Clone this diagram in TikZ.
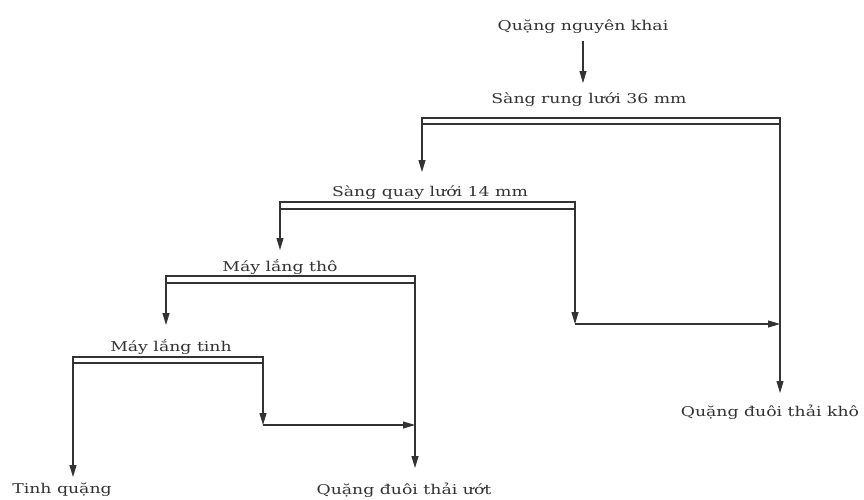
\documentclass[tikz,border=0pt]{standalone}
\usepackage{fontspec}
\setmainfont[FakeStretch=1.28]{DejaVu Serif}
\usetikzlibrary{arrows.meta}
\definecolor{ink}{HTML}{333333}
\begin{document}
\begin{tikzpicture}[x=1pt,y=-1pt,
  lbl/.style={font=\fontsize{13.5}{16}\selectfont, text=ink, inner sep=0pt},
  bar/.style={draw=ink, line width=1.1pt},
  flow/.style={draw=ink, line width=1.1pt, -{Triangle[length=12pt,width=7pt]}}]
\useasboundingbox (0,0) rectangle (864,499);
% labels
\node[lbl] (feed) at (583,27) {Quặng nguyên khai};
\node[lbl] (s1) at (589,100) {Sàng rung lưới 36 mm};
\node[lbl] (s2) at (430,193) {Sàng quay lưới 14 mm};
\node[lbl] (j1) at (280,267) {Máy lắng thô};
\node[lbl] (j2) at (171,347) {Máy lắng tinh};
\node[lbl] (conc) at (62,490) {Tinh quặng};
\node[lbl] (wet) at (404,490) {Quặng đuôi thải ướt};
\node[lbl] (dry) at (770,412) {Quặng đuôi thải khô};
% coordinates
\coordinate (f0) at (583,41);
\coordinate (f1) at (583,83);
\coordinate (b1tl) at (422,118); \coordinate (b1br) at (780,124);
\coordinate (b1bl) at (422,124); \coordinate (b1tr) at (780,118);
\coordinate (t1) at (422,172);
\coordinate (k1) at (780,393);
\coordinate (b2tl) at (280,202); \coordinate (b2br) at (575,209);
\coordinate (b2bl) at (280,209); \coordinate (b2tr) at (575,202);
\coordinate (t2) at (280,250);
\coordinate (c2) at (575,324);
\coordinate (m2) at (780,324);
\coordinate (b3tl) at (166,276); \coordinate (b3br) at (415,283);
\coordinate (b3bl) at (166,283); \coordinate (b3tr) at (415,276);
\coordinate (t3) at (166,325);
\coordinate (w3) at (415,468);
\coordinate (b4tl) at (73,357); \coordinate (b4br) at (263,363);
\coordinate (b4bl) at (73,363); \coordinate (b4tr) at (263,357);
\coordinate (t4) at (73,477);
\coordinate (c4) at (263,425);
\coordinate (m4) at (415,425);
% feed
\draw[flow] (f0) -- (f1);
% screen 1
\draw[bar] (b1tl) rectangle (b1br);
\draw[flow] (b1bl) -- (t1);
\draw[flow] (b1tr) -- (k1);
% screen 2
\draw[bar] (b2tl) rectangle (b2br);
\draw[flow] (b2bl) -- (t2);
\draw[flow] (b2tr) -- (c2);
\draw[flow] (c2) -- (m2);
% jig 1
\draw[bar] (b3tl) rectangle (b3br);
\draw[flow] (b3bl) -- (t3);
\draw[flow] (b3tr) -- (w3);
% jig 2
\draw[bar] (b4tl) rectangle (b4br);
\draw[flow] (b4bl) -- (t4);
\draw[flow] (b4tr) -- (c4);
\draw[flow] (c4) -- (m4);
\end{tikzpicture}
\end{document}
